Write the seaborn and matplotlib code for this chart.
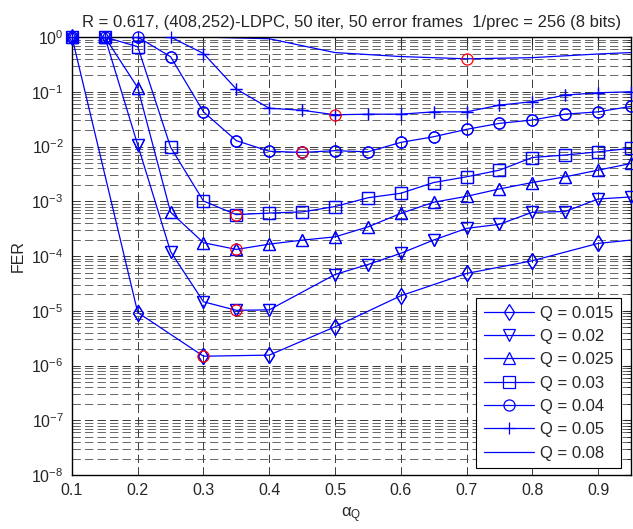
import matplotlib
matplotlib.use('Agg')
import numpy as np
import pandas as pd
import matplotlib.pyplot as plt
import seaborn as sns
from matplotlib.ticker import FixedLocator, NullFormatter, LogFormatterSciNotation

# FER vs alpha_Q, one curve per quantisation step Q
alpha_a = [0.1, 0.15, 0.2, 0.25, 0.3, 0.35, 0.4, 0.45, 0.5, 0.55,
           0.6, 0.65, 0.7, 0.75, 0.8, 0.85, 0.9, 0.95]
alpha_b = [0.1, 0.2, 0.3, 0.4, 0.5, 0.6, 0.7, 0.8, 0.9, 1.0]
alpha_c = [0.1, 0.15, 0.2, 0.25, 0.3, 0.35, 0.4, 0.5, 0.55,
           0.6, 0.65, 0.7, 0.75, 0.8, 0.85, 0.9, 0.95]
alpha_d = [0.1, 0.2, 0.3, 0.4, 0.5, 0.6, 0.7, 0.8, 0.9, 0.95]

fer_q015 = [1.0, 9.3e-6, 1.48e-6, 1.55e-6, 5.1e-6, 1.88e-5, 4.8e-5, 8.2e-5, 1.7e-4, 2.25e-4]
fer_q020 = [1.0, 1.0, 1.07e-2, 1.2e-4, 1.46e-5, 1.02e-5, 1.04e-5, 4.6e-5, 7.0e-5,
            1.12e-4, 1.96e-4, 3.2e-4, 3.8e-4, 6.3e-4, 6.5e-4, 1.1e-3, 1.2e-3]
fer_q025 = [1.0, 1.0, 0.119, 6.3e-4, 1.75e-4, 1.32e-4, 1.65e-4, 1.95e-4, 2.24e-4, 3.4e-4,
            6.0e-4, 9.6e-4, 1.23e-3, 1.68e-3, 2.2e-3, 2.8e-3, 3.7e-3, 4.9e-3]
fer_q030 = [1.0, 1.0, 0.665, 9.7e-3, 1.01e-3, 5.7e-4, 6.1e-4, 6.4e-4, 8.0e-4, 1.16e-3,
            1.4e-3, 2.2e-3, 2.8e-3, 3.7e-3, 6.3e-3, 7.0e-3, 8.0e-3, 9.3e-3]
fer_q040 = [1.0, 1.0, 1.0, 0.436, 0.043, 0.0128, 0.0082, 0.0078, 0.0084, 0.008,
            0.0119, 0.0151, 0.0206, 0.0265, 0.0305, 0.039, 0.043, 0.054]
fer_q050 = [1.0, 1.0, 1.0, 1.0, 0.50, 0.112, 0.050, 0.046, 0.038, 0.039,
            0.039, 0.043, 0.043, 0.057, 0.066, 0.087, 0.096, 0.10]
fer_q080 = [1.0, 1.0, 1.0, 0.93, 0.52, 0.44, 0.40, 0.42, 0.49, 0.52]

labels = ['Q = 0.015', 'Q = 0.02', 'Q = 0.025', 'Q = 0.03', 'Q = 0.04', 'Q = 0.05', 'Q = 0.08']
xticks = [0.1, 0.2, 0.3, 0.4, 0.5, 0.6, 0.7, 0.8, 0.9]
ydecades = [-8, -7, -6, -5, -4, -3, -2, -1, 0]
title = 'R = 0.617, (408,252)-LDPC, 50 iter, 50 error frames  1/prec = 256 (8 bits)'

series = [
    (alpha_b, fer_q015, 'd'),
    (alpha_c, fer_q020, 'v'),
    (alpha_a, fer_q025, '^'),
    (alpha_a, fer_q030, 's'),
    (alpha_a, fer_q040, 'o'),
    (alpha_a, fer_q050, '+'),
    (alpha_d, fer_q080, None),
]

XMAX = 0.95


def main():
    sns.set_style('white')
    plt.rcParams['font.family'] = ['Liberation Sans', 'DejaVu Sans']
    plt.rcParams['mathtext.fontset'] = 'custom'
    plt.rcParams['mathtext.rm'] = 'Liberation Sans'
    plt.rcParams['mathtext.it'] = 'Liberation Sans:italic'

    fig = plt.figure(figsize=(6.33, 5.29), dpi=100)
    ax = fig.add_axes([0.1137, 0.102, 0.883, 0.828])

    for (x, y, m), lab in zip(series, labels):
        df = pd.DataFrame({'alpha': x, 'fer': y})
        inside = [i for i, v in enumerate(x) if v <= XMAX + 1e-9]
        if m is None:
            kw = {}
        else:
            kw = dict(marker=m, markersize=8, markerfacecolor='none',
                      markeredgecolor='blue', markeredgewidth=0.9, markevery=inside)
        sns.lineplot(data=df, x='alpha', y='fer', ax=ax, color='blue',
                     linewidth=0.9, label=lab, estimator=None, sort=False, **kw)
        if m is not None:
            # markers on the frame are not clipped (MATLAB look)
            ax.plot([x[i] for i in inside], [y[i] for i in inside], linestyle='none',
                    marker=m, markersize=8, markerfacecolor='none',
                    markeredgecolor='blue', markeredgewidth=0.9, clip_on=False, zorder=4)

        # red circle at the minimum of each curve
        i = int(np.argmin(y))
        ax.plot([x[i]], [y[i]], 'o', markersize=8, markerfacecolor='none',
                markeredgecolor='red', markeredgewidth=0.9, zorder=5)

    ax.set_yscale('log')
    ax.set_xlim(0.1, XMAX)
    ax.set_ylim(1e-8, 1)
    ax.xaxis.set_major_locator(FixedLocator(xticks))
    ax.set_xticklabels([f'{t:.1f}' for t in xticks])
    ax.yaxis.set_major_locator(FixedLocator([10.0 ** d for d in ydecades]))
    ax.yaxis.set_major_formatter(LogFormatterSciNotation())
    minor = [k * 10.0 ** d for d in ydecades[:-1] for k in range(2, 10)]
    ax.yaxis.set_minor_locator(FixedLocator(minor))
    ax.yaxis.set_minor_formatter(NullFormatter())

    ax.grid(True, which='major', axis='both', color='0.1', linestyle=(0, (10, 5)), linewidth=0.6)
    ax.grid(True, which='minor', axis='y', color='0.3', linestyle=(0, (10, 5)), linewidth=0.6)
    ax.set_axisbelow(True)

    ax.tick_params(which='both', direction='in', top=True, right=True)
    ax.tick_params(axis='x', labelsize=11.5, pad=6)
    ax.tick_params(axis='y', labelsize=11.5, pad=6)
    ax.tick_params(which='major', length=5)
    ax.tick_params(which='minor', length=3)
    for sp in ax.spines.values():
        sp.set_color('black')
        sp.set_linewidth(1.0)

    ax.set_title(title, fontsize=12, pad=7)
    ax.set_xlabel('α$_\\mathregular{Q}$', fontsize=12, labelpad=5)
    ax.set_ylabel('FER', fontsize=11.5, labelpad=4)

    leg = ax.legend(loc='lower right', bbox_to_anchor=(0.983, 0.016), fontsize=12,
                    frameon=True, fancybox=False, edgecolor='black', framealpha=1,
                    handlelength=3.0, handletextpad=0.4, labelspacing=0.5,
                    borderpad=0.45, borderaxespad=0)
    leg.get_frame().set_linewidth(0.8)

    fig.savefig('out.png', dpi=100)


if __name__ == '__main__':
    main()
